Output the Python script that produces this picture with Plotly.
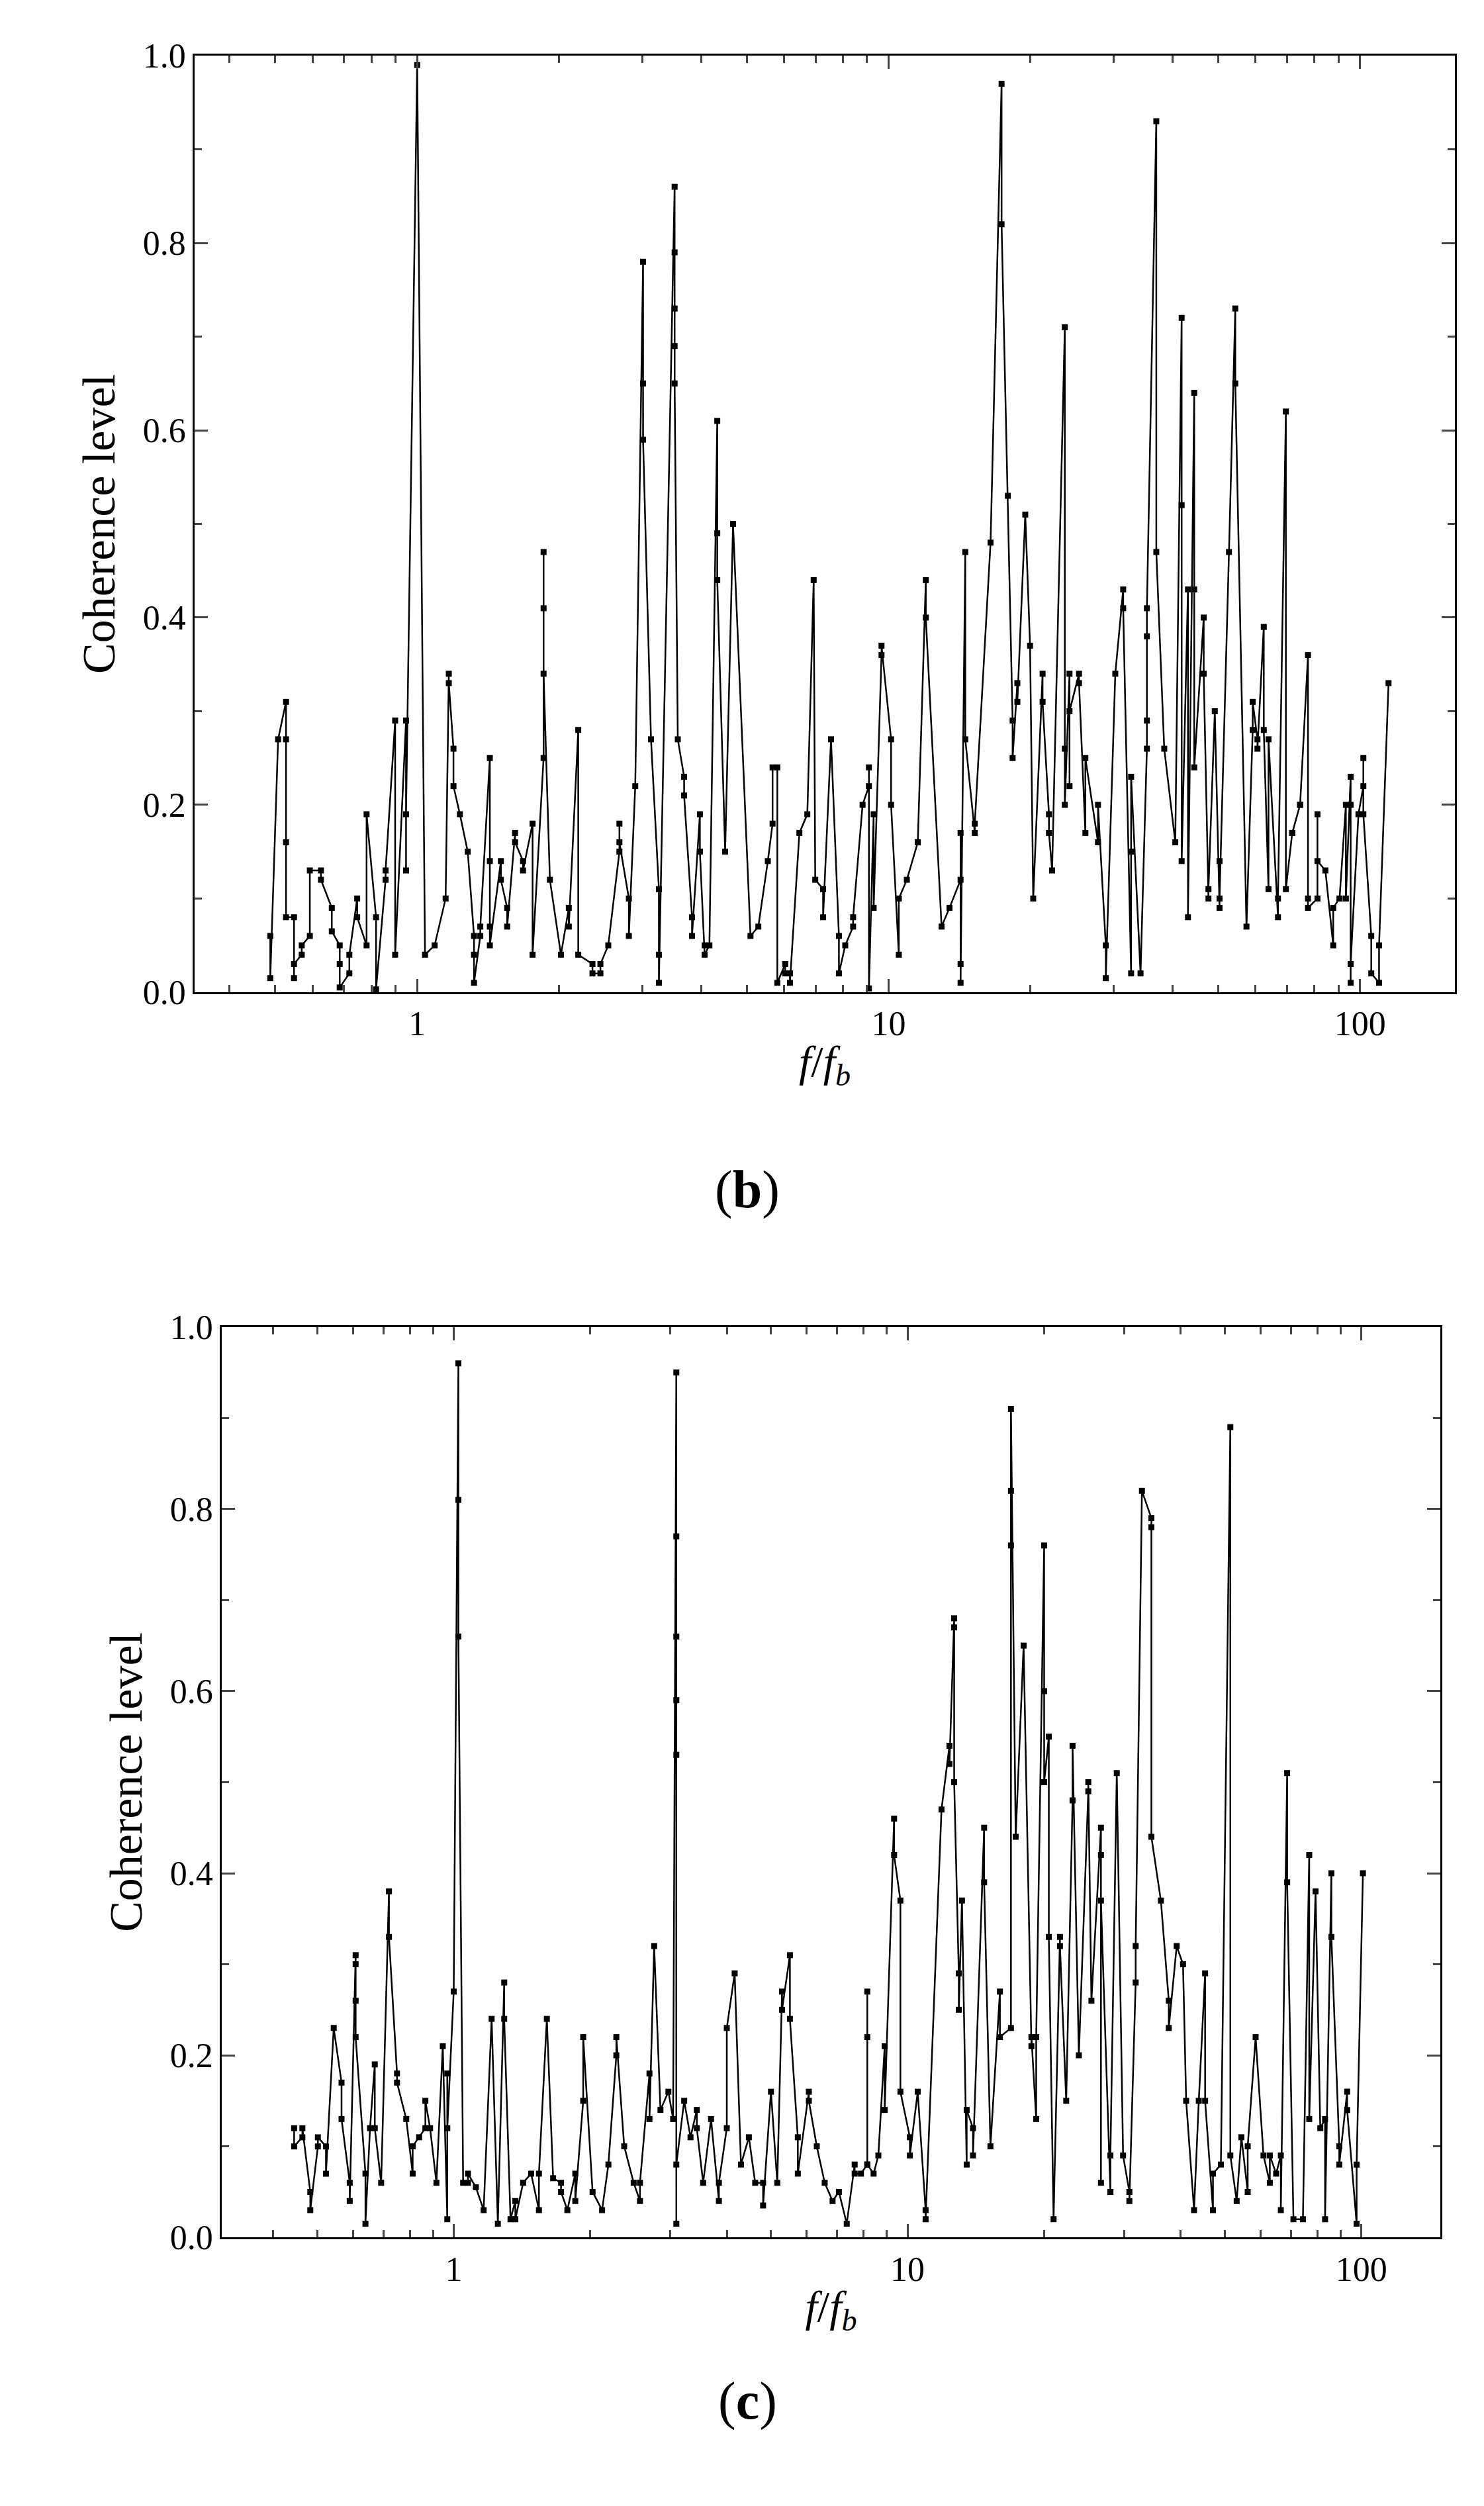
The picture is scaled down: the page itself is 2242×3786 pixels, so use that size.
import plotly.graph_objects as go

# Panel (b)
fb_x = [0.488,0.488,0.507,0.527,0.527,0.527,0.527,0.548,0.548,0.548,0.569,0.569,0.592,0.592,0.625,0.625,
        0.659,0.659,0.685,0.685,0.685,0.718,0.718,0.746,0.746,0.781,0.781,0.818,0.818,0.857,0.857,0.898,0.898,
        0.947,0.947,0.947,1.0,1.039,1.089,1.149,1.167,1.167,1.194,1.194,1.232,1.280,1.320,1.320,1.320,1.361,1.361,
        1.426,1.426,1.426,1.426,1.505,1.505,1.552,1.552,1.613,1.613,1.677,1.677,1.757,1.757,1.854,1.854,1.854,1.854,
        1.912,2.018,2.097,2.097,2.196,2.196,2.354,2.354,2.447,2.447,2.543,2.685,2.685,2.685,2.812,2.812,2.901,
        3.014,3.014,3.014,3.133,3.256,3.256,3.256,3.516,3.516,3.516,3.516,3.516,3.571,3.683,3.683,3.828,3.828,
        3.978,3.978,4.071,4.071,4.167,4.330,4.330,4.330,4.500,4.677,5.093,5.292,5.543,5.673,5.673,5.806,5.806,
        6.034,6.034,6.175,6.175,6.467,6.722,6.934,6.987,7.261,7.261,7.547,7.844,7.844,8.090,8.407,8.407,8.805,
        9.082,9.082,9.082,9.294,9.294,9.658,9.658,10.12,10.12,10.51,10.51,10.93,11.53,11.53,11.99,11.99,12.95,13.46,
        14.21,14.21,14.21,14.21,14.54,14.54,15.23,15.23,16.45,17.36,17.36,17.90,18.32,18.32,18.75,18.75,19.49,19.95,
        20.26,21.21,21.21,21.88,21.88,22.22,23.64,23.64,23.64,24.19,24.19,24.19,25.34,25.34,26.14,26.14,27.80,27.80,
        28.88,28.88,30.25,31.44,31.44,32.68,32.68,32.68,34.22,35.30,35.30,35.30,35.30,36.96,36.96,38.42,40.55,
        41.83,41.83,41.83,43.14,43.14,44.48,44.48,44.48,46.59,46.59,47.68,47.68,49.18,50.33,50.33,50.33,52.71,
        54.36,54.36,57.41,59.18,59.18,60.57,60.57,62.47,62.47,63.93,63.93,66.96,66.96,69.59,69.59,71.78,71.78,
        74.60,74.60,77.53,77.53,77.53,81.20,81.20,81.20,84.40,87.70,87.70,90.45,90.45,93.29,93.29,95.48,95.48,95.48,
        95.48,99.2,101.6,101.6,101.6,105.6,105.6,109.7,109.7,114.9]
fb_y = [0.06,0.015,0.27,0.31,0.27,0.16,0.08,0.08,0.015,0.03,0.04,0.05,0.06,0.13,0.13,0.12,
        0.09,0.065,0.05,0.03,0.005,0.02,0.04,0.10,0.08,0.05,0.19,0.08,0.003,0.12,0.13,0.29,0.04,
        0.29,0.13,0.19,0.99,0.04,0.05,0.10,0.34,0.33,0.26,0.22,0.19,0.15,0.06,0.04,0.01,0.06,0.07,
        0.25,0.14,0.07,0.05,0.14,0.12,0.09,0.07,0.17,0.16,0.14,0.13,0.18,0.04,0.25,0.47,0.41,0.34,
        0.12,0.04,0.09,0.07,0.28,0.04,0.03,0.02,0.02,0.03,0.05,0.15,0.18,0.16,0.10,0.06,0.22,
        0.78,0.65,0.59,0.27,0.11,0.04,0.01,0.86,0.79,0.73,0.69,0.65,0.27,0.23,0.21,0.08,0.06,
        0.19,0.15,0.05,0.04,0.05,0.61,0.49,0.44,0.15,0.50,0.06,0.07,0.14,0.18,0.24,0.24,0.01,
        0.03,0.02,0.02,0.01,0.17,0.19,0.44,0.12,0.11,0.08,0.27,0.06,0.02,0.05,0.07,0.08,0.20,
        0.22,0.24,0.004,0.19,0.09,0.36,0.37,0.27,0.20,0.04,0.10,0.12,0.16,0.16,0.44,0.40,0.07,0.09,
        0.12,0.17,0.03,0.01,0.47,0.27,0.17,0.18,0.48,0.97,0.82,0.53,0.29,0.25,0.33,0.31,0.51,0.37,
        0.10,0.34,0.31,0.19,0.17,0.13,0.71,0.26,0.20,0.34,0.22,0.30,0.34,0.33,0.17,0.25,0.16,0.20,
        0.05,0.015,0.34,0.43,0.41,0.02,0.15,0.23,0.02,0.26,0.29,0.38,0.41,0.93,0.47,0.26,0.16,
        0.72,0.52,0.14,0.43,0.08,0.64,0.43,0.24,0.40,0.34,0.10,0.11,0.30,0.09,0.14,0.10,0.47,
        0.73,0.65,0.07,0.28,0.31,0.27,0.26,0.39,0.28,0.11,0.27,0.08,0.10,0.62,0.11,0.17,0.17,
        0.20,0.20,0.36,0.10,0.09,0.10,0.19,0.14,0.13,0.05,0.09,0.10,0.10,0.20,0.10,0.23,0.20,0.01,
        0.03,0.19,0.22,0.25,0.19,0.06,0.02,0.01,0.05,0.33]

# Panel (c)
fc_x = [0.445,0.445,0.464,0.464,0.483,0.483,0.502,0.502,0.523,0.523,0.544,0.566,0.566,0.590,0.590,
        0.608,0.608,0.608,0.608,0.639,0.639,0.654,0.670,0.670,0.692,0.720,0.720,0.750,0.750,0.786,0.812,0.812,
        0.839,0.866,0.866,0.887,0.916,0.946,0.968,0.968,0.968,1.0,1.024,1.024,1.024,1.049,1.075,1.075,1.119,
        1.164,1.212,1.251,1.292,1.292,1.334,1.367,1.367,1.422,1.481,1.541,1.541,1.604,1.656,1.724,1.724,1.780,
        1.853,1.853,1.929,1.929,2.023,2.123,2.192,2.282,2.282,2.375,2.492,2.573,2.573,2.700,2.700,2.765,2.855,
        2.972,3.044,3.094,3.094,3.094,3.094,3.094,3.094,3.094,3.220,3.325,3.433,3.433,3.545,3.690,3.840,3.840,
        3.997,3.997,4.160,4.295,4.471,4.616,4.805,4.805,5.001,5.164,5.290,5.290,5.506,5.506,5.731,5.731,6.061,
        6.061,6.310,6.568,6.836,7.059,7.346,7.647,7.647,7.895,8.153,8.153,8.153,8.153,8.418,8.624,8.905,8.905,
        9.341,9.341,9.645,9.645,10.12,10.12,10.53,10.96,10.96,11.88,12.37,12.37,12.67,12.67,12.67,12.97,12.97,
        13.18,13.50,13.50,13.94,13.94,14.75,14.75,15.23,15.98,15.98,16.90,16.90,16.90,16.90,17.31,18.02,18.75,
        18.75,19.21,19.21,20.00,20.00,20.00,20.48,20.48,20.98,21.67,21.67,22.37,23.10,23.10,23.85,25.02,25.02,
        25.42,26.68,26.68,26.68,26.68,27.99,27.99,27.99,28.91,29.85,30.82,30.82,31.82,31.82,32.85,34.46,34.46,
        34.46,36.16,37.64,37.64,39.18,40.46,41.11,42.79,43.83,45.26,45.26,47.10,47.10,49.03,51.44,51.44,53.12,
        54.41,56.18,56.18,58.48,60.86,62.85,62.85,64.90,66.46,66.46,68.63,68.63,70.85,74.34,76.76,76.76,79.26,
        81.19,83.18,83.18,85.89,85.89,89.40,89.40,93.05,93.05,97.63,97.63,100.8]
fc_y = [0.12,0.10,0.11,0.12,0.05,0.03,0.10,0.11,0.10,0.07,0.23,0.17,0.13,0.06,0.04,
        0.31,0.30,0.26,0.22,0.07,0.015,0.12,0.19,0.12,0.06,0.38,0.33,0.18,0.17,0.13,0.07,0.10,
        0.11,0.12,0.15,0.12,0.06,0.21,0.02,0.18,0.12,0.27,0.96,0.81,0.66,0.06,0.06,0.07,0.055,
        0.03,0.24,0.015,0.28,0.24,0.02,0.04,0.02,0.06,0.07,0.03,0.07,0.24,0.065,0.06,0.05,0.03,
        0.07,0.04,0.15,0.22,0.05,0.03,0.08,0.20,0.22,0.10,0.06,0.04,0.06,0.18,0.13,0.32,0.14,
        0.16,0.13,0.95,0.77,0.66,0.59,0.53,0.015,0.08,0.15,0.11,0.14,0.12,0.06,0.13,0.04,0.06,
        0.12,0.23,0.29,0.08,0.11,0.06,0.06,0.035,0.16,0.06,0.27,0.25,0.31,0.24,0.11,0.07,0.16,
        0.15,0.10,0.06,0.04,0.05,0.015,0.08,0.07,0.07,0.08,0.22,0.27,0.08,0.07,0.09,0.21,0.14,
        0.46,0.42,0.37,0.16,0.11,0.09,0.16,0.03,0.02,0.47,0.54,0.52,0.68,0.67,0.50,0.29,0.25,
        0.37,0.08,0.14,0.12,0.09,0.45,0.39,0.10,0.27,0.22,0.23,0.76,0.82,0.91,0.44,0.65,0.21,
        0.22,0.13,0.22,0.76,0.60,0.50,0.55,0.33,0.02,0.33,0.32,0.15,0.48,0.54,0.20,0.49,0.50,
        0.26,0.45,0.06,0.42,0.37,0.05,0.05,0.09,0.51,0.09,0.05,0.04,0.28,0.32,0.82,0.79,0.78,
        0.44,0.37,0.26,0.23,0.32,0.30,0.15,0.03,0.15,0.29,0.15,0.03,0.07,0.08,0.89,0.09,0.04,
        0.11,0.05,0.10,0.22,0.09,0.06,0.09,0.07,0.09,0.03,0.51,0.39,0.02,0.02,0.42,0.13,0.38,
        0.12,0.13,0.02,0.40,0.33,0.10,0.08,0.16,0.14,0.015,0.08,0.40]

y_ticks = [0.0, 0.2, 0.4, 0.6, 0.8, 1.0]

FONT = "Liberation Serif, Times New Roman, serif"
fig = go.Figure()
style = dict(mode="lines+markers", line=dict(color="black", width=2.5),
             marker=dict(symbol="square", size=9, color="black"), showlegend=False)
fig.add_trace(go.Scatter(x=fb_x, y=fb_y, xaxis="x", yaxis="y", **style))
fig.add_trace(go.Scatter(x=fc_x, y=fc_y, xaxis="x2", yaxis="y2", **style))

def xax(dom, rng, anchor):
    return dict(type="log", domain=dom, range=rng, anchor=anchor, automargin=False,
                dtick=1, ticks="inside", ticklen=20, tickwidth=3,
                minor=dict(dtick="D1", ticks="inside", ticklen=11, tickwidth=3, showgrid=False),
                showline=True, linecolor="black", linewidth=3, mirror="ticks", showgrid=False,
                zeroline=False, tickfont=dict(family=FONT, size=52, color="black"),
                title=dict(text="<i>f</i>/<i>f</i><sub><i>b</i></sub>",
                           font=dict(family=FONT, size=66, color="black"), standoff=6))

def yax(dom, anchor):
    return dict(domain=dom, range=[0, 1.0], anchor=anchor, automargin=False, tickvals=y_ticks,
                ticktext=[f"{v:.1f}" for v in y_ticks], ticks="inside", ticklen=20, tickwidth=3,
                minor=dict(dtick=0.1, ticks="inside", ticklen=11, tickwidth=3, showgrid=False),
                showline=True, linecolor="black", linewidth=3, mirror="ticks", showgrid=False,
                zeroline=False, tickfont=dict(family=FONT, size=52, color="black"),
                title=dict(text="Coherence level", font=dict(family=FONT, size=70, color="black"),
                           standoff=20))

fig.update_layout(
    width=2242, height=3786, margin=dict(l=0, r=0, t=0, b=0, autoexpand=False),
    paper_bgcolor="white", plot_bgcolor="white",
    xaxis=xax([0.1276, 0.9768], [-0.472, 2.201], "y"),
    yaxis=yax([0.6062, 0.9799], "x"),
    xaxis2=xax([0.1459, 0.967], [-0.511, 2.174], "y2"),
    yaxis2=yax([0.1093, 0.4726], "x2"),
    annotations=[
        dict(text="(<b>b</b>)", x=0.5, y=1 - 1789/3786, xref="paper", yref="paper",
             showarrow=False, font=dict(family=FONT, size=80, color="black")),
        dict(text="(<b>c</b>)", x=0.5, y=1 - 3666/3786, xref="paper", yref="paper",
             showarrow=False, font=dict(family=FONT, size=80, color="black")),
    ],
)
fig.write_html("out.html")
